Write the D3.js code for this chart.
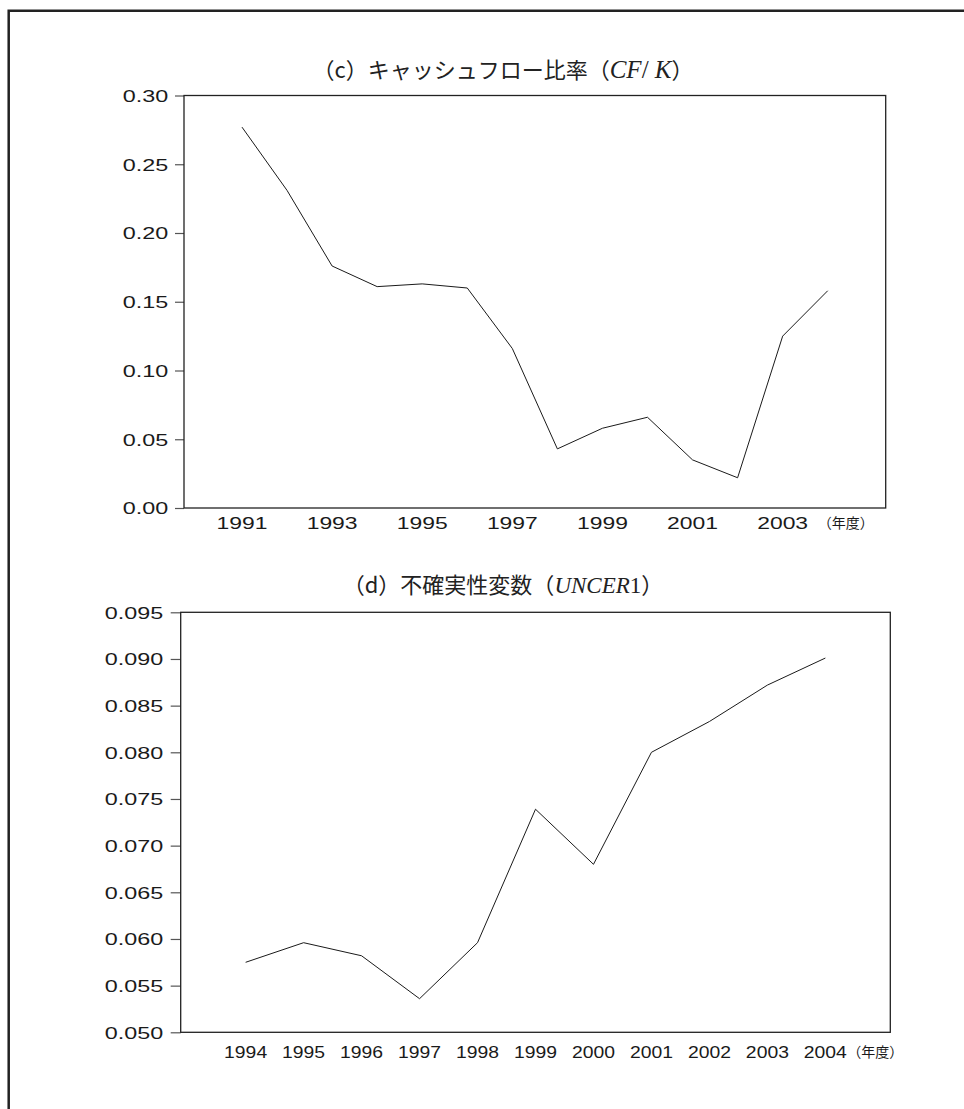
<!DOCTYPE html>
<html><head><meta charset="utf-8">
<script src="https://cdn.jsdelivr.net/npm/d3@7"></script>
<style>body{margin:0;background:#fff}svg{display:block}</style>
</head><body>
<svg id="chart" width="964" height="1109"></svg>
<script>
// ---- data ----
const cfYears = [1991,1992,1993,1994,1995,1996,1997,1998,1999,2000,2001,2002,2003,2004];
const cfValues = [0.277,0.231,0.176,0.161,0.163,0.160,0.116,0.043,0.058,0.066,0.035,0.022,0.125,0.158];
const cfTicks = [0.00,0.05,0.10,0.15,0.20,0.25,0.30];
const cfLabelYears = [1991,1993,1995,1997,1999,2001,2003];

const uncYears = [1994,1995,1996,1997,1998,1999,2000,2001,2002,2003,2004];
const uncValues = [0.0575,0.0596,0.0582,0.0536,0.0596,0.0739,0.0680,0.0800,0.0833,0.0872,0.0901];
const uncTicks = [0.050,0.055,0.060,0.065,0.070,0.075,0.080,0.085,0.090,0.095];
const uncLabelYears = [1994,1995,1996,1997,1998,1999,2000,2001,2002,2003,2004];

const unitLabel = "（年度）";
const titleC = [["（c）キャッシュフロー比率（","jp",false],["CF","serif",true],["/ ","serif",false],["K","serif",true],["）","jp",false]];
const titleD = [["（d）不確実性変数（","jp",false],["UNCER","serif",true],["1","serif",false],["）","jp",false]];

// ---- drawing ----
const svg = d3.select("#chart");
svg.append("rect").attr("width",964).attr("height",1109).attr("fill","#fff");
svg.append("path").attr("d","M8.7,1109V10.7H964").attr("fill","none").attr("stroke","#222").attr("stroke-width",2.5);

const SANS = "'Liberation Sans', Arial, sans-serif";
const JP = "'Noto Sans CJK JP', sans-serif";
const SERIF = "'Liberation Serif', 'Times New Roman', serif";

function panel(cfg){
  const g = svg.append("g");
  const x = d3.scaleLinear()
    .domain([cfg.years[0]-cfg.pad, cfg.years[cfg.years.length-1]+cfg.pad])
    .range([cfg.left, cfg.right]);
  const y = d3.scaleLinear().domain(cfg.yDomain).range([cfg.bottom, cfg.top]);

  // y axis
  const ax = g.append("g").attr("transform",`translate(${cfg.left},0)`)
    .call(d3.axisLeft(y).tickValues(cfg.ticks).tickFormat(d3.format(cfg.fmt)).tickSize(cfg.tickLen).tickSizeOuter(0));
  ax.select(".domain").remove();
  ax.selectAll(".tick line").attr("stroke","#555").attr("stroke-width",1.2);
  ax.selectAll(".tick text")
    .attr("font-family",SANS).attr("font-size",16).attr("fill","#1a1a1a")
    .attr("x",-cfg.labelOff/cfg.ys).attr("dy","0.36em")
    .attr("transform",`scale(${cfg.ys},1)`);

  // frame
  g.append("rect").attr("x",cfg.left).attr("y",cfg.top)
    .attr("width",cfg.right-cfg.left).attr("height",cfg.bottom-cfg.top)
    .attr("fill","none").attr("stroke","#222").attr("stroke-width",1.3);

  // x labels
  g.selectAll(".xl").data(cfg.labelYears).join("text")
    .attr("transform",d=>`translate(${x(d)},${cfg.xLabelY}) scale(${cfg.xs},1)`)
    .attr("text-anchor","middle").attr("dy","0.36em")
    .attr("font-family",SANS).attr("font-size",16).attr("fill","#1a1a1a")
    .text(d=>d);
  g.append("text")
    .attr("x", x(cfg.labelYears[cfg.labelYears.length-1]) + cfg.unitOff)
    .attr("y", cfg.xLabelY).attr("dy","0.36em")
    .attr("font-family",JP).attr("font-size",14).attr("fill","#1a1a1a")
    .text(unitLabel);

  // line
  const data = cfg.years.map((yr,i)=>({yr, v: cfg.values[i]}));
  g.append("path").datum(data)
    .attr("d", d3.line().x(d=>x(d.yr)).y(d=>y(d.v)))
    .attr("fill","none").attr("stroke","#1a1a1a").attr("stroke-width",1);

  // title
  const t = g.append("text").attr("x",503).attr("y",cfg.titleY).attr("dy","0.36em")
    .attr("text-anchor","middle").attr("fill","#222");
  cfg.title.forEach(([s,f,it])=>{
    t.append("tspan").text(s)
      .attr("font-family", f==="jp"?JP:SERIF)
      .attr("font-size", f==="jp"?22:cfg.serifSize)
      .attr("font-style", it?"italic":"normal");
  });
}

panel({years:cfYears, values:cfValues, ticks:cfTicks, labelYears:cfLabelYears, fmt:".2f",
  left:184, right:885.7, top:95.5, bottom:508, pad:1.287, yDomain:[0,0.30],
  tickLen:9, labelOff:15.7, ys:1.46, xs:1.43, xLabelY:523, unitOff:35, titleY:72, title:titleC, serifSize:25});

panel({years:uncYears, values:uncValues, ticks:uncTicks, labelYears:uncLabelYears, fmt:".3f",
  left:180.7, right:890.3, top:612.3, bottom:1032.3, pad:1.12, yDomain:[0.050,0.095],
  tickLen:10, labelOff:17.4, ys:1.46, xs:1.21, xLabelY:1052, unitOff:22, titleY:587, title:titleD, serifSize:23});
</script>
</body></html>
